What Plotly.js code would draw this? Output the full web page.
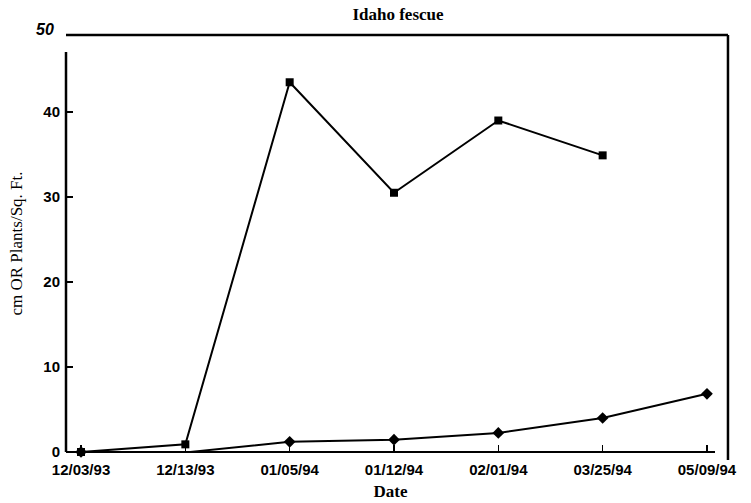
<!DOCTYPE html>
<html>
<head>
<meta charset="utf-8">
<script src="https://cdn.plot.ly/plotly-3.0.1.min.js"></script>
<style>html,body{margin:0;padding:0;background:#fff;}#chart{width:751px;height:503px;}</style>
</head>
<body>
<div id="chart"></div>
<script>
const dates = ["12/03/93", "12/13/93", "01/05/94", "01/12/94", "02/01/94", "03/25/94", "05/09/94"];
const squaresSeries = [0, 0.9, 43.5, 30.5, 39.0, 34.9, null];
const diamondsSeries = [0, -0.05, 1.2, 1.45, 2.25, 4.0, 6.85];
const yTicks = [0, 10, 20, 30, 40];

const traces = [
  {x: dates, y: squaresSeries, type: 'scatter', mode: 'lines+markers', cliponaxis: false,
   line: {color: '#000', width: 2}, marker: {symbol: 'square', size: 8, color: '#000'}, showlegend: false},
  {x: dates, y: diamondsSeries, type: 'scatter', mode: 'lines+markers', cliponaxis: false,
   line: {color: '#000', width: 2}, marker: {symbol: 'diamond', size: 9, color: '#000'}, showlegend: false}
];

const tickFont = {family: 'Liberation Sans, Arial, sans-serif', size: 15, color: '#000', weight: 'bold'};
const serif = 'Liberation Serif, Times New Roman, serif';

const layout = {
  width: 751, height: 503,
  margin: {l: 66, r: 36, t: 35, b: 51, pad: 0},
  paper_bgcolor: '#fff', plot_bgcolor: '#fff',
  title: {text: '<b>Idaho fescue</b>', font: {family: serif, size: 17, color: '#000'}, x: 0.53, xanchor: 'center', y: 0.972, yanchor: 'middle'},
  xaxis: {
    type: 'category', range: [-0.144, 6.077], showgrid: false, zeroline: false, showline: false,
    ticks: 'inside', ticklen: 7, tickwidth: 1.5, tickcolor: '#000', tickfont: tickFont, ticklabelstandoff: 7,
    title: {text: '<b>Date</b>', font: {family: serif, size: 17, color: '#000'}, standoff: 8}
  },
  yaxis: {
    range: [0, 49.06], tickvals: yTicks, showgrid: false, zeroline: false, showline: false,
    ticks: 'inside', ticklen: 7, tickwidth: 1.5, tickcolor: '#000', tickfont: tickFont, ticklabelstandoff: 5,
    title: {text: 'cm OR Plants/Sq. Ft.', font: {family: serif, size: 17, color: '#000'}, standoff: 16}
  },
  shapes: [
    {type: 'line', xref: 'paper', yref: 'paper', x0: 0, x1: 1.02, y0: 1, y1: 1, line: {color: '#000', width: 2.5}},
    {type: 'line', xref: 'paper', yref: 'paper', x0: 1.02, x1: 1.02, y0: 1, y1: -0.019, line: {color: '#000', width: 2.5}},
    {type: 'line', xref: 'paper', yref: 'paper', x0: 0, x1: 0, y0: 0, y1: 0.959, line: {color: '#000', width: 2.5}},
    {type: 'line', xref: 'paper', yref: 'paper', x0: 0, x1: 1, y0: 0, y1: 0, line: {color: '#000', width: 2}}
  ],
  annotations: [
    {text: '<i>50</i>', xref: 'paper', yref: 'paper', x: 0, y: 1.014, xanchor: 'right', yanchor: 'middle', xshift: -10,
     showarrow: false, font: {family: 'Liberation Sans, Arial, sans-serif', size: 16, color: '#000', weight: 'bold'}}
  ]
};

Plotly.newPlot('chart', traces, layout, {displayModeBar: false, staticPlot: true});
</script>
</body>
</html>
